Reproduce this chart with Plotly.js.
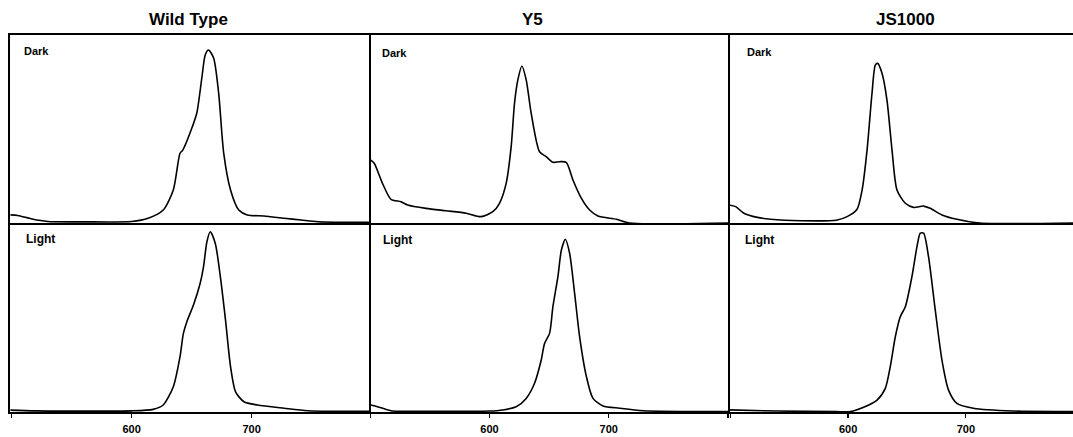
<!DOCTYPE html>
<html>
<head>
<meta charset="utf-8">
<script src="https://cdn.plot.ly/plotly-3.0.1.min.js"></script>
<style>html,body{margin:0;padding:0;background:#fff;}#chart{width:1073px;height:437px;}</style>
</head>
<body>
<div id="chart"></div>
<script>
// ---- data (wavelength nm, relative intensity) ----
const columnTitles = ["Wild Type", "Y5", "JS1000"];
const rowLabels = ["Dark", "Light"];
const tickVals = [500, 600, 700, 800];
const tickText = ["", "600", "700", ""];

const wtDarkX = [499, 505, 517, 530, 560, 600, 613.7, 626.3, 634.7, 640.3, 642.6, 650.1, 654.3, 658.6, 661.3, 664.1, 668.3, 672.5, 676.7, 682.4, 689.3, 696.4, 710.3, 727.1, 741.2, 755.2, 800];
const wtDarkY = [0.043, 0.040, 0.021, 0.008, 0.006, 0.008, 0.025, 0.069, 0.176, 0.371, 0.388, 0.504, 0.585, 0.778, 0.894, 0.920, 0.878, 0.691, 0.372, 0.176, 0.069, 0.043, 0.037, 0.025, 0.016, 0.007, 0.003];

const wtLightX = [499, 520, 600, 617.9, 626.3, 634.7, 640.3, 643.1, 646, 651.5, 657.1, 659.9, 662.7, 665.5, 669.7, 673.9, 678.2, 682.4, 686.6, 693.6, 704.8, 727.1, 746.8, 800];
const wtLightY = [0.010, 0.006, 0.006, 0.014, 0.037, 0.134, 0.293, 0.416, 0.478, 0.566, 0.681, 0.769, 0.901, 0.954, 0.892, 0.716, 0.487, 0.240, 0.107, 0.054, 0.037, 0.020, 0.007, 0.003];

const y5DarkX = [500.6, 503.4, 510.3, 517.4, 525.8, 531.4, 546.8, 563.6, 580.4, 593, 602.8, 608.4, 614, 618.2, 621, 623.8, 627.2, 630.8, 635, 642, 647.6, 653.2, 658.8, 664.4, 670, 677.1, 684, 691, 706.5, 717.6, 800];
const y5DarkY = [0.335, 0.318, 0.211, 0.126, 0.113, 0.096, 0.078, 0.065, 0.052, 0.034, 0.060, 0.105, 0.211, 0.406, 0.637, 0.761, 0.835, 0.761, 0.583, 0.379, 0.353, 0.323, 0.326, 0.323, 0.229, 0.131, 0.069, 0.037, 0.020, 0.000, 0.000];

const y5LightX = [500.6, 506.2, 517.4, 560, 600, 611.2, 622.4, 630.8, 637.8, 643.4, 646.2, 650.4, 653.2, 657.4, 660.3, 663.6, 667.2, 671.4, 675.6, 681.3, 686.8, 695.2, 709.2, 728.8, 800];
const y5LightY = [0.037, 0.028, 0.007, 0.004, 0.005, 0.011, 0.028, 0.072, 0.152, 0.275, 0.363, 0.416, 0.557, 0.716, 0.857, 0.914, 0.840, 0.628, 0.398, 0.187, 0.072, 0.032, 0.020, 0.007, 0.003];

const jsDarkX = [498.9, 504.5, 511.5, 522.9, 534.2, 560, 590, 599.2, 607.6, 611.9, 616.1, 620.3, 623.1, 625.1, 628.8, 633, 637.3, 641.5, 648.6, 655.6, 664.1, 669.7, 679.7, 692.4, 712, 791];
const jsDarkY = [0.096, 0.087, 0.052, 0.030, 0.020, 0.012, 0.015, 0.034, 0.073, 0.176, 0.388, 0.690, 0.840, 0.849, 0.796, 0.654, 0.388, 0.176, 0.105, 0.083, 0.090, 0.078, 0.043, 0.020, 0.000, 0.000];

const jsLightX = [498.9, 540, 590, 602, 613.2, 624.6, 631.6, 635.8, 640.1, 644.3, 648.6, 654.2, 658.5, 661.3, 664.1, 668.3, 674, 679.7, 685.3, 692.4, 706.4, 740.3, 791];
const jsLightY = [0.011, 0.005, 0.002, 0.002, 0.025, 0.063, 0.125, 0.240, 0.398, 0.504, 0.557, 0.716, 0.875, 0.946, 0.946, 0.822, 0.540, 0.275, 0.116, 0.046, 0.020, 0.005, 0.003];

// ---- layout geometry ----
const W = 1073, H = 437;
const colPx = [[10, 369, 498.6, 797.8], [369, 728, 499, 800], [728, 1073, 498, 791]]; // left, right, xmin, xmax
const rowPx = [[35, 223], [223, 412]]; // top, bottom
const px = x => x / W;
const py = y => 1 - y / H;
const LW = 2;

const series = [
  [wtDarkX, wtDarkY], [y5DarkX, y5DarkY], [jsDarkX, jsDarkY],
  [wtLightX, wtLightY], [y5LightX, y5LightY], [jsLightX, jsLightY]
];

const traces = [];
const layout = {
  width: W, height: H,
  margin: {l: 0, r: 0, t: 0, b: 0},
  paper_bgcolor: '#fff', plot_bgcolor: '#fff',
  showlegend: false,
  font: {family: 'Liberation Sans, Arial, sans-serif', color: '#000'},
  annotations: []
};

series.forEach((s, i) => {
  const r = Math.floor(i / 3), c = i % 3;
  const n = i + 1;
  const xa = 'x' + (n === 1 ? '' : n), ya = 'y' + (n === 1 ? '' : n);
  traces.push({
    x: s[0], y: s[1], xaxis: xa, yaxis: ya,
    type: 'scatter', mode: 'lines',
    line: {color: '#000', width: 1.6, shape: 'spline', smoothing: 0.7},
    hoverinfo: 'skip', cliponaxis: true
  });
  const cp = colPx[c], rp = rowPx[r];
  layout['xaxis' + (n === 1 ? '' : n)] = {
    domain: [px(cp[0]), px(cp[1])],
    range: [cp[2], cp[3]],
    anchor: ya,
    showline: true, mirror: r === 0, linecolor: '#000', linewidth: LW,
    showgrid: false, zeroline: false,
    ticks: r === 1 ? 'outside' : '', ticklen: 4, tickwidth: 1.3, tickcolor: '#000',
    tickvals: tickVals, ticktext: tickText,
    showticklabels: r === 1, ticklabelstandoff: 2,
    tickfont: {size: 11, family: 'Liberation Sans, Arial, sans-serif', weight: 'bold', color: '#000'}
  };
  layout['yaxis' + (n === 1 ? '' : n)] = {
    domain: [py(rp[1]), py(rp[0])],
    range: [0, 1],
    anchor: xa,
    side: c === 0 ? 'left' : 'right',
    showline: c !== 2, mirror: c === 0, linecolor: '#000', linewidth: LW,
    showgrid: false, zeroline: false, ticks: '', showticklabels: false
  };
});

// column titles
const titlePx = [188, 532, 905];
columnTitles.forEach((t, c) => {
  layout.annotations.push({
    text: '<b>' + t + '</b>', xref: 'paper', yref: 'paper',
    x: px(titlePx[c]), y: py(20), xanchor: 'center', yanchor: 'middle',
    showarrow: false, font: {size: 17, family: 'Liberation Sans, Arial, sans-serif', color: '#000'}
  });
});

// row labels inside panels
const labelPx = [[[22, 51], [380, 53], [745, 52]], [[24, 239], [381, 240], [743, 240]]];
rowLabels.forEach((lab, r) => {
  labelPx[r].forEach(p => {
    layout.annotations.push({
      text: '<b>' + lab + '</b>', xref: 'paper', yref: 'paper',
      x: px(p[0]), y: py(p[1]), xanchor: 'left', yanchor: 'middle',
      showarrow: false, font: {size: r === 0 ? 11 : 12, family: 'Liberation Sans, Arial, sans-serif', color: '#000'}
    });
  });
});

Plotly.newPlot('chart', traces, layout, {staticPlot: true, displayModeBar: false});
</script>
</body>
</html>
